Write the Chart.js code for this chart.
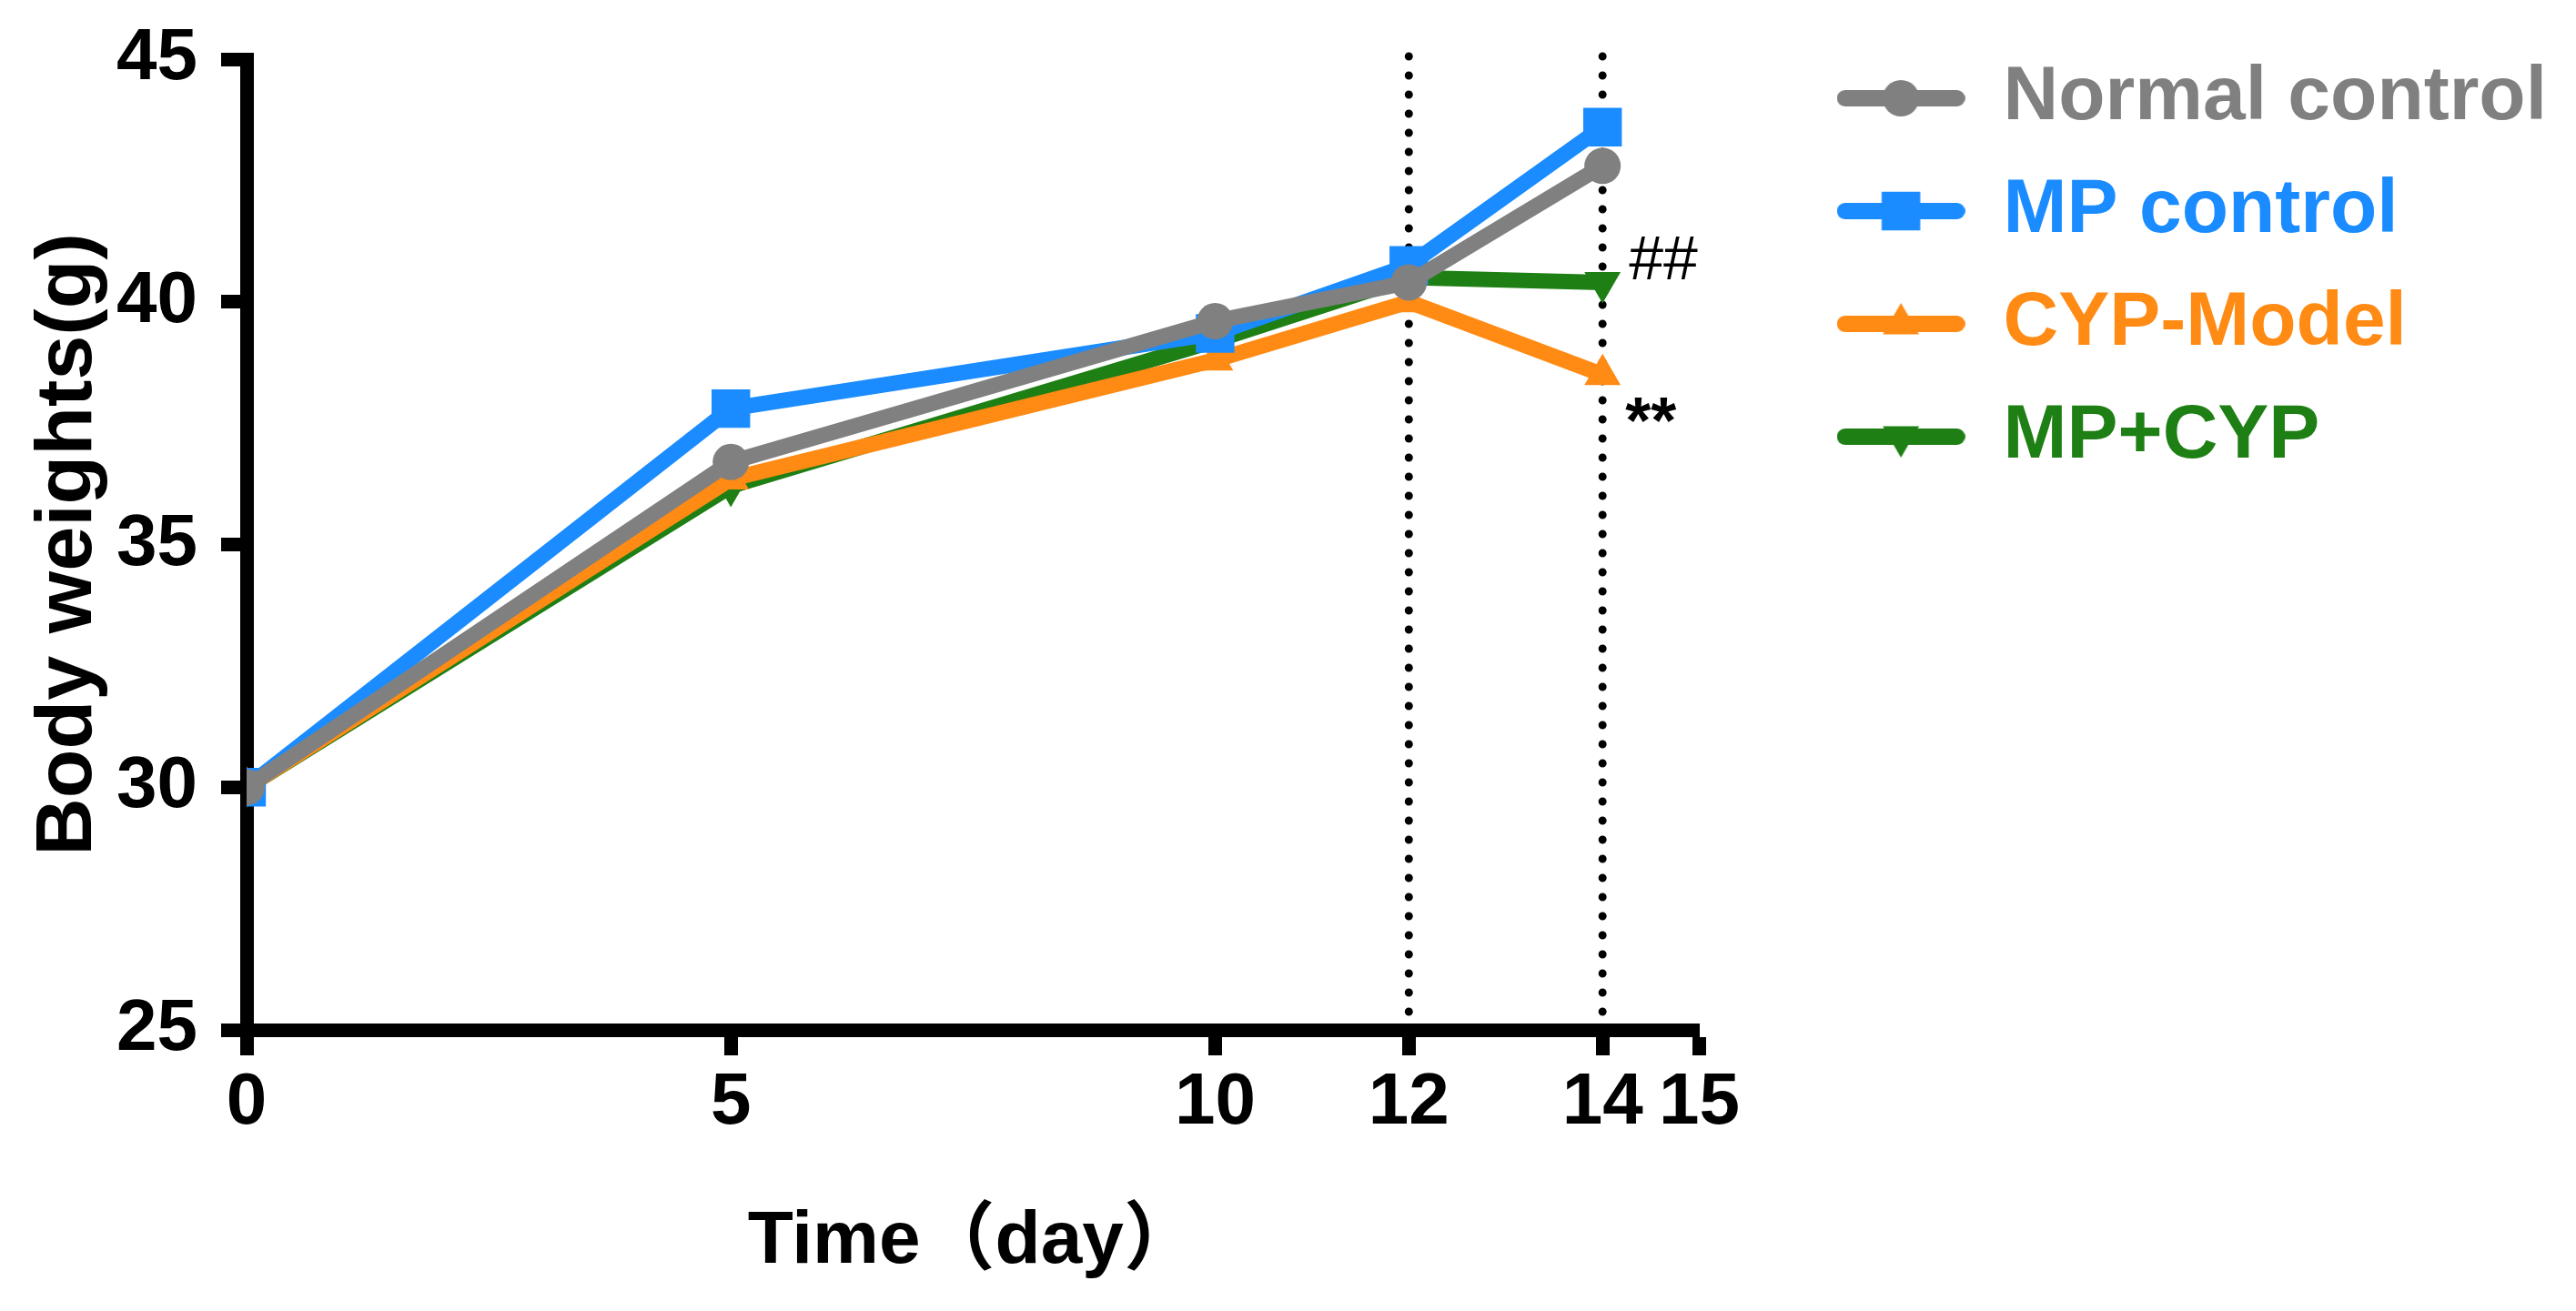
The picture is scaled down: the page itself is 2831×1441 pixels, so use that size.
<!DOCTYPE html>
<html>
<head>
<meta charset="utf-8">
<title>Body weights</title>
<script src="https://cdn.jsdelivr.net/npm/chart.js@4.4.1/dist/chart.umd.min.js"></script>
<style>
  html, body { margin: 0; padding: 0; background: #fff; }
  #wrap { width: 2831px; height: 1441px; }
</style>
</head>
<body>
<div id="wrap"><canvas id="weightchart"></canvas></div>
<script>
// values (g)
var days = [0, 5, 10, 12, 14];
var normalControl = [30.0, 36.7, 39.6, 40.4, 42.8];
var mpControl = [30.0, 37.8, 39.35, 40.75, 43.6];
var cypModel = [30.0, 36.35, 38.8, 40.0, 38.5];
var mpCyp = [30.0, 36.2, 39.2, 40.5, 40.4];
var seriesNames = ['Normal control', 'MP control', 'CYP-Model', 'MP+CYP'];
var xTicks = [0, 5, 10, 12, 14, 15];
var yTicks = [25, 30, 35, 40, 45];
var markedDays = [12, 14];

var FONT = "'Liberation Sans', Arial, 'Noto Sans CJK SC', sans-serif";

function pts(values) {
    return days.map(function (d, i) { return { x: d, y: values[i] }; });
}

// little line+marker swatch for the legend
function legendIcon(color, style, radius, rotation) {
    var c = document.createElement('canvas');
    c.width = 141; c.height = 64;
    var ctx = c.getContext('2d');
    ctx.strokeStyle = color;
    ctx.lineWidth = 18;
    ctx.lineCap = 'round';
    ctx.beginPath(); ctx.moveTo(9, 32); ctx.lineTo(132, 32); ctx.stroke();
    ctx.fillStyle = color;
    Chart.helpers.drawPoint(ctx, { pointStyle: style, radius: radius, rotation: rotation, borderWidth: 0 }, 70.5, 32);
    return c;
}

function series(label, values, color, style, radius, rotation) {
    return {
        label: label,
        data: pts(values),
        borderColor: color,
        backgroundColor: color,
        borderWidth: 17,
        pointStyle: style,
        pointRadius: radius,
        pointHoverRadius: radius,
        pointRotation: rotation,
        pointBorderWidth: 0,
        pointBackgroundColor: color,
        tension: 0,
        icon: legendIcon(color, style, radius, rotation)
    };
}

// dotted verticals at day 12 and 14, drawn under the lines
var dottedLines = {
    id: 'dottedLines',
    beforeDatasetsDraw: function (chart) {
        var ctx = chart.ctx, x = chart.scales.x, y = chart.scales.y;
        ctx.save();
        ctx.strokeStyle = '#000';
        ctx.lineWidth = 9;
        ctx.lineCap = 'round';
        ctx.setLineDash([0, 21]);
        markedDays.forEach(function (d) {
            var px = x.getPixelForValue(d);
            ctx.beginPath();
            ctx.moveTo(px, y.getPixelForValue(45) - 3);
            ctx.lineTo(px, y.getPixelForValue(25) - 14);
            ctx.stroke();
        });
        ctx.restore();
    },
    afterDatasetsDraw: function (chart) {
        var ctx = chart.ctx, x = chart.scales.x, y = chart.scales.y;
        var last = days.length - 1;
        var px = x.getPixelForValue(days[last]);
        ctx.save();
        ctx.fillStyle = '#000';
        ctx.textAlign = 'left';
        ctx.textBaseline = 'middle';
        ctx.font = '68px ' + FONT;
        ctx.fillText('##', px + 29, y.getPixelForValue(mpCyp[last]) - 22);
        ctx.font = 'bold 72px ' + FONT;
        ctx.fillText('**', px + 25, y.getPixelForValue(cypModel[last]) + 55);
        ctx.restore();
    }
};

var ctxw = document.getElementById('weightchart');
var weightchart = new Chart(ctxw, {
    type: 'line',
    data: {
        datasets: [
            series(seriesNames[0], normalControl, '#808080', 'circle', 20, 0),
            series(seriesNames[1], mpControl, '#1A8CFF', 'rect', 30, 0),
            series(seriesNames[2], cypModel, '#FF8A14', 'triangle', 23, 0),
            series(seriesNames[3], mpCyp, '#1E7F14', 'triangle', 23, 180)
        ]
    },
    options: {
        responsive: true,
        maintainAspectRatio: false,
        devicePixelRatio: 1,
        animation: false,
        layout: { padding: { top: 26, right: 22, left: 0, bottom: 0 } },
        scales: {
            x: {
                type: 'linear',
                min: 0,
                max: 15,
                afterBuildTicks: function (s) {
                    s.ticks = xTicks.map(function (v) { return { value: v }; });
                },
                afterFit: function (s) {
                    s.height = 309;
                    s.paddingLeft = 0;
                    s.paddingRight = 0;
                },
                border: { display: true, color: '#000', width: 15 },
                grid: { drawOnChartArea: false, drawTicks: true, tickLength: 28, tickWidth: 15, tickColor: '#000' },
                ticks: {
                    color: '#000',
                    padding: 5,
                    maxRotation: 0,
                    autoSkip: false,
                    font: { family: FONT, size: 80, weight: 'bold' }
                },
                title: {
                    display: true,
                    text: 'Time（day）',
                    color: '#000',
                    padding: { top: 0, bottom: 26 },
                    font: { family: FONT, size: 82, weight: 'bold' }
                }
            },
            y: {
                min: 25,
                max: 45,
                afterBuildTicks: function (s) {
                    s.ticks = yTicks.map(function (v) { return { value: v }; });
                },
                afterFit: function (s) {
                    s.width = 271;
                    s.paddingTop = 65;
                },
                border: { display: true, color: '#000', width: 15 },
                grid: { drawOnChartArea: false, drawTicks: true, tickLength: 28, tickWidth: 15, tickColor: '#000' },
                ticks: {
                    color: '#000',
                    padding: 26,
                    font: { family: FONT, size: 80, weight: 'bold' }
                },
                title: {
                    display: true,
                    text: 'Body weights(g)',
                    color: '#000',
                    padding: { top: 23, bottom: 0 },
                    font: { family: FONT, size: 88, weight: 'bold' }
                }
            },
            // empty axis used only as a gap between the plot and the legend
            yGap: {
                position: 'right',
                display: true,
                grid: { display: false, drawTicks: false },
                ticks: { display: false },
                border: { display: false },
                afterFit: function (s) { s.width = 111; }
            }
        },
        plugins: {
            tooltip: { enabled: false },
            legend: {
                position: 'right',
                align: 'start',
                maxWidth: 1000,
                labels: {
                    usePointStyle: true,
                    pointStyleWidth: 141,
                    padding: 40,
                    font: { family: FONT, size: 84, weight: 'bold' },
                    generateLabels: function (chart) {
                        return chart.data.datasets.map(function (ds, i) {
                            return {
                                text: ds.label,
                                fontColor: ds.borderColor,
                                pointStyle: ds.icon,
                                fillStyle: ds.borderColor,
                                strokeStyle: ds.borderColor,
                                lineWidth: 0,
                                hidden: false,
                                datasetIndex: i
                            };
                        });
                    }
                }
            }
        }
    },
    plugins: [dottedLines]
});
</script>
</body>
</html>
